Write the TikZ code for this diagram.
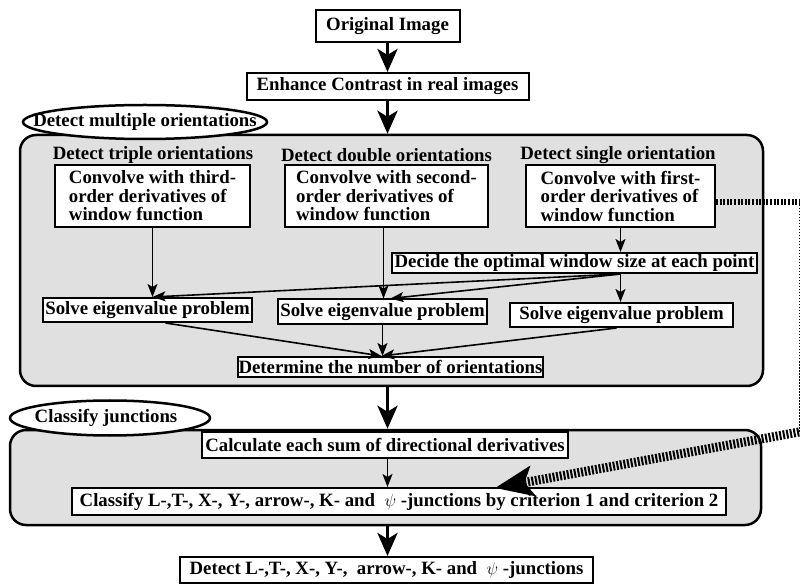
\documentclass[tikz,border=0pt]{standalone}
\usepackage{fontspec}
\setmainfont{Liberation Serif}
\usetikzlibrary{arrows.meta,shapes.geometric,calc}
\begin{document}
\begin{tikzpicture}[x=1pt,y=-1pt,
  every node/.style={font=\fontsize{18.8}{18.5}\selectfont\bfseries},
  box/.style={draw, line width=2pt, fill=white, inner sep=1pt, anchor=center},
  frame/.style={draw, line width=2.5pt, rounded corners=16pt, fill=black!12, inner sep=0pt},
  oval/.style={ellipse, draw, line width=2.5pt, fill=white, inner sep=0pt},
  lab/.style={inner sep=0pt},
  bigarrow/.style={line width=3.5pt, -{Stealth[length=23pt,width=20pt,inset=6pt]}},
  thinarrow/.style={line width=1.6pt, -{Stealth[length=13pt,width=10pt,inset=3pt]}},
  hatch/.style={dash pattern=on 2pt off 1.6pt},
]
\useasboundingbox (0,0) rectangle (801,585);

% frames
\node[frame, minimum width=743pt, minimum height=251pt] (multi) at (391.5,260.5) {};
\node[frame, minimum width=751pt, minimum height=95pt] (junc) at (385.5,477.5) {};

% ovals
\node[oval, minimum width=244pt, minimum height=34pt] (oval1) at (145,122) {};
\node[lab] (oval1t) at (oval1) {Detect multiple orientations};
\node[oval, minimum width=200pt, minimum height=35pt] (oval2) at (110,418) {};
\node[lab] (oval2t) at (106,418) {Classify junctions};

% top boxes
\node[box, minimum width=144pt, minimum height=32pt] (orig) at (387.5,26) {Original Image};
\node[box, minimum width=282pt, minimum height=27pt] (enh) at (387.5,86.5) {Enhance Contrast in real images};

% labels
\node[lab] (ltriple) at (153,155) {Detect triple orientations};
\node[lab] (ldouble) at (386.5,155) {Detect double orientations};
\node[lab] (lsingle) at (618,155) {Detect single orientation};

% convolution boxes
\node[box, minimum width=195pt, minimum height=62pt, align=left] (triple) at (152.5,196)
  {Convolve with third-\\order derivatives of\\window function};
\node[box, minimum width=203pt, minimum height=62pt, align=left] (double) at (386.5,196)
  {Convolve with second-\\order derivatives of\\window function};
\node[box, minimum width=189pt, minimum height=62pt, align=left] (single) at (620.5,196)
  {Convolve with first-\\order derivatives of\\window function};

\node[box, minimum width=365pt, minimum height=20pt] (decide) at (574.5,263)
  {Decide the optimal window size at each point};

\node[box, minimum width=209pt, minimum height=24pt] (solve1) at (147.5,310) {Solve eigenvalue problem};
\node[box, minimum width=209pt, minimum height=25pt] (solve2) at (382.5,312) {Solve eigenvalue problem};
\node[box, minimum width=223pt, minimum height=24pt] (solve3) at (621.5,315) {Solve eigenvalue problem};

\node[box, minimum width=305pt, minimum height=20pt] (determine) at (390.5,367)
  {Determine the number of orientations};

\node[box, minimum width=366pt, minimum height=26pt] (calc) at (385,445)
  {Calculate each sum of directional derivatives};
\node[box, minimum width=654pt, minimum height=27pt] (classify) at (399,501.5)
  {Classify L-,T-, X-, Y-, arrow-, K- and \ $\psi$ -junctions by criterion 1 and criterion 2};
\node[box, minimum width=413pt, minimum height=26pt] (final) at (386.5,570)
  {Detect L-,T-, X-, Y-, \ arrow-, K- and \ $\psi$ -junctions};

% main flow
\draw[bigarrow] (orig.south) -- (orig.south |- enh.north);
\draw[bigarrow] (enh.south) -- (enh.south |- multi.north);
\draw[bigarrow] (enh.south |- multi.south) -- (enh.south |- junc.north);
\draw[bigarrow] (enh.south |- junc.south) -- (enh.south |- final.north);

% inner arrows
\coordinate (dsrc) at (single.south |- decide.south);
\draw[thinarrow] (triple.south) -- (triple.south |- solve1.north);
\draw[thinarrow] (double.south -| solve2.north) ++(1,0) -- ($(solve2.north)+(1,0)$);
\draw[thinarrow] (single.south) -- (single.south |- decide.north);
\draw[thinarrow] (dsrc) -- ($(solve1.north)+(5,0)$);
\draw[thinarrow] (dsrc) -- ($(solve2.north)+(8,0)$);
\draw[thinarrow] (dsrc) -- (dsrc |- solve3.north);

\coordinate (dt) at ($(determine.north)+(-9,0)$);
\draw[thinarrow] ($(solve1.south)+(18,0)$) -- (dt);
\draw[thinarrow] (solve2.south) -- (solve2.south |- determine.north);
\draw[thinarrow] ($(solve3.south)+(-5,0)$) -- (dt);

\draw[thinarrow] (enh.south |- calc.south) -- (enh.south |- classify.north);

% hatched connector
\coordinate (hA) at ([yshift=-6pt]single.east);
\coordinate (hB) at (799,202);
\coordinate (hC) at (799,432);
\coordinate (hD) at (495,488);
\draw[hatch, line width=6pt] (hA) -- (hB);
\draw[line width=1pt, dash pattern=on 1.5pt off 1.5pt] (hB) -- (hC);
\draw[hatch, line width=9pt, -{Stealth[length=38pt,width=30pt,inset=8pt]}] (hC) -- (hD);
\end{tikzpicture}
\end{document}
